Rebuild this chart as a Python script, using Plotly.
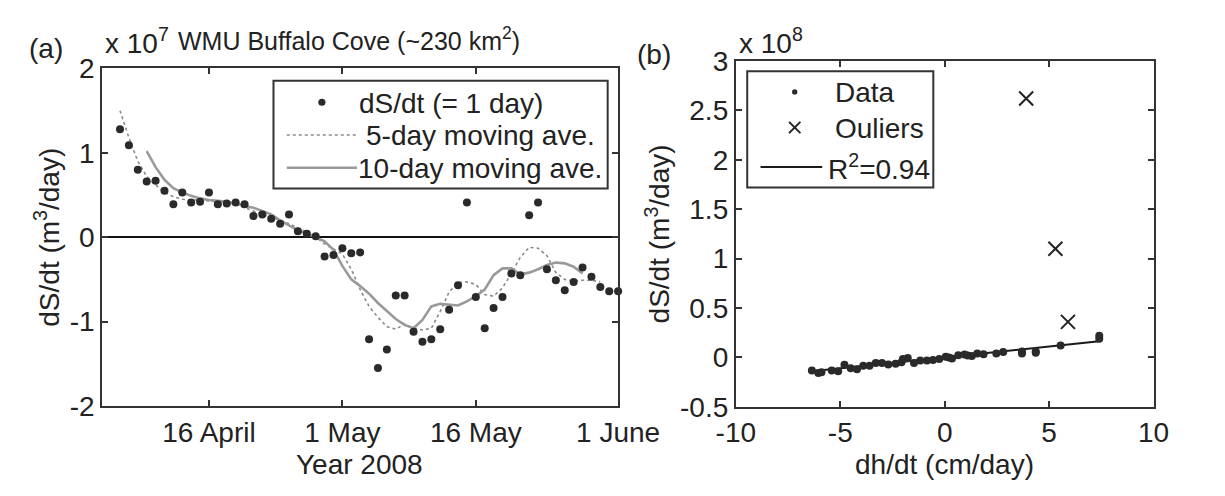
import plotly.graph_objects as go
import pandas as pd
import numpy as np

# ---------------- Panel (a): dS/dt time series (values in units of 1e7 m^3/day)
daily_start, daily_end = '2008-04-06', '2008-06-01'
ds_daily = [1.28, 1.09, 0.80, 0.66, 0.67, 0.55, 0.39, 0.53, 0.41, 0.42,
            0.53, 0.39, 0.40, 0.41, 0.39, 0.25, 0.27, 0.22, 0.16, 0.27,
            0.07, 0.04, 0.01, -0.23, -0.21,
            -0.13, -0.19, -0.18, -1.21, -1.55, -1.33, -0.69, -0.69, -1.12, -1.24,
            -1.21, -1.09, -0.86, -0.57, 0.41, -0.71, -1.08, -0.84, -0.71, -0.43,
            -0.45, 0.26, 0.41, -0.38, -0.51, -0.63, -0.53, -0.36, -0.47, -0.59,
            -0.64, -0.64]

ma5_start, ma5_end = '2008-04-06', '2008-05-30'
ma5 = [1.50, 1.18, 0.90, 0.72, 0.62, 0.53, 0.48, 0.45, 0.44, 0.44,
       0.43, 0.42, 0.41, 0.39, 0.35, 0.31, 0.27, 0.24, 0.20, 0.16,
       0.11, 0.06, 0.00, -0.08, -0.14,
       -0.20, -0.38, -0.62, -0.82, -0.95, -1.06, -1.09, -1.03, -1.08, -1.10,
       -1.08, -0.88, -0.65, -0.54, -0.53, -0.56, -0.68, -0.70, -0.60, -0.43,
       -0.24, -0.12, -0.13, -0.22, -0.42, -0.50, -0.52, -0.51, -0.51, -0.53]

ma10_start, ma10_end = '2008-04-09', '2008-05-28'
ma10 = [1.02, 0.83, 0.68, 0.58, 0.53, 0.49, 0.46, 0.44, 0.43, 0.42,
        0.40, 0.37, 0.35, 0.31, 0.27, 0.20, 0.14, 0.08, 0.04, 0.00,
        -0.05, -0.15,
        -0.34, -0.50, -0.58, -0.67, -0.78, -0.88, -0.97, -1.04, -1.08, -0.98,
        -0.82, -0.79, -0.80, -0.81, -0.76, -0.70, -0.62, -0.45, -0.37, -0.37,
        -0.44, -0.42, -0.38, -0.33, -0.30, -0.31, -0.35, -0.43]

a_tick_dates = ['2008-04-16', '2008-05-01', '2008-05-16', '2008-06-01']
a_tick_text = ['16 April', '1 May', '16 May', '1 June']
a_y_ticks = [-2, -1, 0, 1, 2]

# ---------------- Panel (b): dS/dt vs dh/dt (dS/dt in units of 1e8 m^3/day)
dh_data = [-6.36, -6.05, -5.9, -5.41, -5.1, -4.8, -4.5, -4.2, -3.9, -3.6,
           -3.3, -3.0, -2.7, -2.35, -2.07, -2.0, -1.77, -1.47, -1.17, -0.85,
           -0.56, -0.26, 0.05, 0.2, 0.35, 0.65, 0.95, 1.1, 1.3, 1.56,
           1.86, 2.47, 2.8, 3.7, 3.7, 4.36, 4.36, 5.55, 7.4, 7.4]
ds_data = [-0.133, -0.158, -0.15, -0.133, -0.14, -0.073, -0.11, -0.12, -0.085, -0.085,
           -0.057, -0.057, -0.07, -0.063, -0.048, -0.016, -0.006, -0.057, -0.032, -0.03,
           -0.025, -0.016, 0.006, 0.0, -0.01, 0.022, 0.029, 0.02, 0.016, 0.041,
           0.032, 0.041, 0.054, 0.06, 0.041, 0.06, 0.047, 0.12, 0.22, 0.19]
dh_out = [3.9, 5.3, 5.9]
ds_out = [2.62, 1.10, 0.36]
fit_slope = 0.022   # 1e8 m^3/day per cm/day (R^2 = 0.94)

b_x_ticks = [-10, -5, 0, 5, 10]
b_y_ticks = [-0.5, 0, 0.5, 1, 1.5, 2, 2.5, 3]

# ---------------- build figure
W, H = 1225, 496
def px(x): return x / W
def py(y): return 1 - y / H

FONT = 'Liberation Sans, Arial, sans-serif'
TXT = '#222222'
AX = '#333333'
FS = 28

d_dates = pd.date_range(daily_start, daily_end, freq='D')
m5_dates = pd.date_range(ma5_start, ma5_end, freq='D')
m10_dates = pd.date_range(ma10_start, ma10_end, freq='D')

fig = go.Figure()
fig.add_trace(go.Scatter(x=m5_dates, y=ma5, mode='lines',
                         line=dict(color='#8a8a8a', width=1.6, dash='dot'),
                         xaxis='x', yaxis='y', showlegend=False))
fig.add_trace(go.Scatter(x=m10_dates, y=ma10, mode='lines',
                         line=dict(color='#9a9a9a', width=2.6),
                         xaxis='x', yaxis='y', showlegend=False))
fig.add_trace(go.Scatter(x=d_dates, y=ds_daily, mode='markers', cliponaxis=False,
                         marker=dict(size=8, color='#2a2a2a'),
                         xaxis='x', yaxis='y', showlegend=False))

fit_x = np.array([min(dh_data), max(dh_data)])
fig.add_trace(go.Scatter(x=fit_x, y=fit_slope * fit_x, mode='lines',
                         line=dict(color='#1a1a1a', width=2),
                         xaxis='x2', yaxis='y2', showlegend=False))
fig.add_trace(go.Scatter(x=dh_data, y=ds_data, mode='markers',
                         marker=dict(size=8, color='#2a2a2a'),
                         xaxis='x2', yaxis='y2', showlegend=False))
fig.add_trace(go.Scatter(x=dh_out, y=ds_out, mode='markers',
                         marker=dict(symbol='x-thin', size=14, line=dict(width=2, color='#222')),
                         xaxis='x2', yaxis='y2', showlegend=False))

axis_common = dict(showline=True, linewidth=2, linecolor=AX, mirror='ticks',
                   ticks='inside', ticklen=6, tickwidth=1.5, tickcolor=AX,
                   showgrid=False, tickfont=dict(family=FONT, size=FS, color=TXT))

fig.update_layout(
    width=W, height=H, margin=dict(l=0, r=0, t=0, b=0),
    paper_bgcolor='white', plot_bgcolor='white', showlegend=False,
    xaxis=dict(domain=[px(86.6), px(630)], type='date',
               range=['2008-04-04', '2008-06-01'], anchor='y',
               tickvals=a_tick_dates, ticktext=a_tick_text, zeroline=False, **axis_common),
    yaxis=dict(domain=[py(417), py(57)], range=[-2, 2], anchor='x',
               tickvals=a_y_ticks, ticktext=[str(v) for v in a_y_ticks],
               zeroline=True, zerolinecolor='#111111', zerolinewidth=2, **axis_common),
    xaxis2=dict(domain=[px(754), px(1194)], range=[-10, 10], anchor='y2',
                tickvals=b_x_ticks, ticktext=[str(v) for v in b_x_ticks],
                zeroline=False, **axis_common),
    yaxis2=dict(domain=[py(418), py(49)], range=[-0.5, 3], anchor='x2',
                tickvals=b_y_ticks, ticktext=[('%g' % v) for v in b_y_ticks],
                zeroline=False, **axis_common),
)

def ann(text, x, y, xanchor='center', size=FS, angle=0):
    fig.add_annotation(text=text, x=px(x), y=py(y), xref='paper', yref='paper',
                       xanchor=xanchor, yanchor='middle', showarrow=False,
                       textangle=angle, font=dict(family=FONT, size=size, color=TXT))

# panel labels, exponents, titles
ann('(a)', 27, 36)
ann('(b)', 668, 42)
ann('x 10<sup>7</sup>', 87, 28, xanchor='left')
ann('WMU Buffalo Cove (~230 km<sup>2</sup>)', 164, 26, xanchor='left', size=25)
ann('x 10<sup>8</sup>', 755, 28, xanchor='left')
ann('dS/dt (m<sup>3</sup>/day)', 29, 237, angle=-90)
ann('dS/dt (m<sup>3</sup>/day)', 672, 233, angle=-90)
ann('Year 2008', 358, 479)
ann('dh/dt (cm/day)', 974, 479)

# ---- legends drawn manually
def rect(x0, y0, x1, y1):
    fig.add_shape(type='rect', xref='paper', yref='paper', x0=px(x0), x1=px(x1),
                  y0=py(y1), y1=py(y0), line=dict(color=AX, width=2), fillcolor='white', layer='above')
def seg(x0, y0, x1, y1, color, width, dash='solid'):
    fig.add_shape(type='line', xref='paper', yref='paper', x0=px(x0), x1=px(x1),
                  y0=py(y0), y1=py(y1), line=dict(color=color, width=width, dash=dash), layer='above')
def dot(x, y, r):
    fig.add_shape(type='circle', xref='paper', yref='paper', x0=px(x - r), x1=px(x + r),
                  y0=py(y + r), y1=py(y - r), line=dict(width=0), fillcolor='#2a2a2a', layer='above')

rect(267, 70, 619, 185)
dot(318, 93, 3.8)
seg(281, 128, 355, 128, '#8a8a8a', 1.6, 'dot')
seg(281, 163, 355, 163, '#9a9a9a', 2.6)
ann('dS/dt (= 1 day)', 553, 94, xanchor='right')
ann('5-day moving ave.', 608, 129, xanchor='right')
ann('10-day moving ave.', 615, 164, xanchor='right')

rect(766, 60, 962, 184)
dot(816, 82, 2.8)
seg(810, 114, 822, 126, '#222', 2)
seg(810, 126, 822, 114, '#222', 2)
seg(780, 162, 845, 162, '#1a1a1a', 2)
ann('Data', 856, 83, xanchor='left')
ann('Ouliers', 856, 121, xanchor='left')
ann('R<sup>2</sup>=0.94', 849, 162, xanchor='left')

fig.write_html('out.html')
